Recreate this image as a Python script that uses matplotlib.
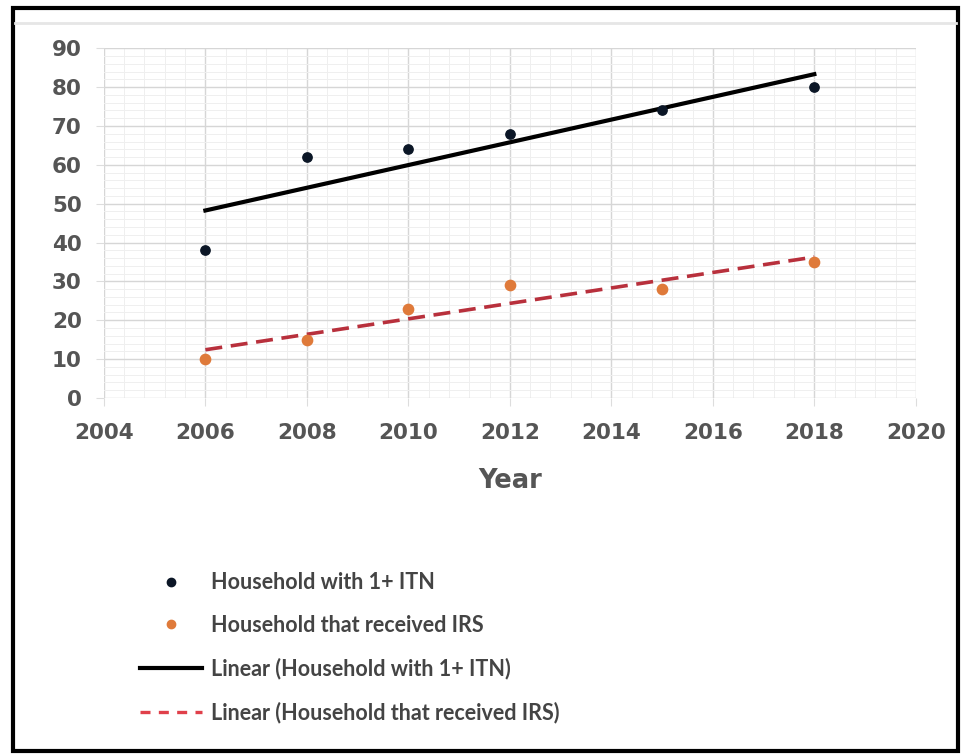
import numpy as np
import matplotlib
matplotlib.use("Agg")
import matplotlib.pyplot as plt
from matplotlib.ticker import MultipleLocator, AutoMinorLocator
from matplotlib.patches import Rectangle
from matplotlib.lines import Line2D

# survey years and coverage (%)
years = [2006, 2008, 2010, 2012, 2015, 2018]
itn = [38, 62, 64, 68, 74, 80]
irs = [10, 15, 23, 29, 28, 35]

labels = ["Household with 1+ ITN",
          "Household that received IRS",
          "Linear (Household with 1+ ITN)",
          "Linear (Household that received IRS)"]

fig = plt.figure(figsize=(9.62, 7.55), dpi=100)
ax = fig.add_axes([0.108, 0.473, 0.844, 0.463])

# scatter points
ax.scatter(years, itn, s=45, color="#0b1626", zorder=3)
ax.scatter(years, irs, s=55, color="#df7a3a", zorder=3)

# linear trend lines (least squares fit)
x = np.array(years, dtype=float)
x_fit = np.array([x.min(), x.max()])
p_itn = np.polyfit(x, itn, 1)
p_irs = np.polyfit(x, irs, 1)
ax.plot(x_fit, np.polyval(p_itn, x_fit), color="black", lw=3, zorder=2)
ax.plot(x_fit, np.polyval(p_irs, x_fit), color="#b8303c", lw=2.6,
        dashes=(4.7, 2.4), zorder=2)

ax.set_xlim(2004, 2020)
ax.set_ylim(0, 90)
ax.xaxis.set_major_locator(MultipleLocator(2))
ax.yaxis.set_major_locator(MultipleLocator(10))
ax.xaxis.set_minor_locator(AutoMinorLocator(5))
ax.yaxis.set_minor_locator(AutoMinorLocator(5))
ax.grid(which="major", color="#d6d6d6", lw=1.0)
ax.grid(which="minor", color="#efefef", lw=0.7)
ax.set_axisbelow(True)
for s in ax.spines.values():
    s.set_visible(False)
ax.tick_params(which="major", length=6, color="#dddddd", labelsize=15.5,
               labelcolor="#555555")
ax.tick_params(axis="x", pad=12)
ax.tick_params(axis="y", pad=10)
ax.tick_params(which="minor", length=0)
for lab in ax.get_xticklabels() + ax.get_yticklabels():
    lab.set_fontweight("bold")

ax.set_xlabel("Year", fontsize=18.5, fontweight="bold", color="#555555",
              labelpad=18)

# legend below the chart
handles = [
    Line2D([], [], ls="none", marker="o", ms=6, color="#0b1626"),
    Line2D([], [], ls="none", marker="o", ms=6, color="#df7a3a"),
    Line2D([], [], color="black", lw=3),
    Line2D([], [], color="#e0404a", lw=2.4, dashes=(3, 2.5)),
]
leg = fig.legend(handles, labels, loc="upper left",
                 bbox_to_anchor=(0.125, 0.268), frameon=False,
                 handlelength=2.9, handletextpad=0.4, labelspacing=1.02,
                 prop={"family": "Lato", "weight": "bold", "size": 15.5})
for t in leg.get_texts():
    t.set_color("#444444")

# outer frame and faint header line
fig.patches.append(Rectangle((0.013, 0.005), 0.983, 0.985,
                             transform=fig.transFigure, fill=False,
                             ec="black", lw=3))
fig.add_artist(Line2D([0.016, 0.994], [0.97, 0.97], transform=fig.transFigure,
                      color="#e6e6e6", lw=2))

fig.savefig("out.png", dpi=100)
